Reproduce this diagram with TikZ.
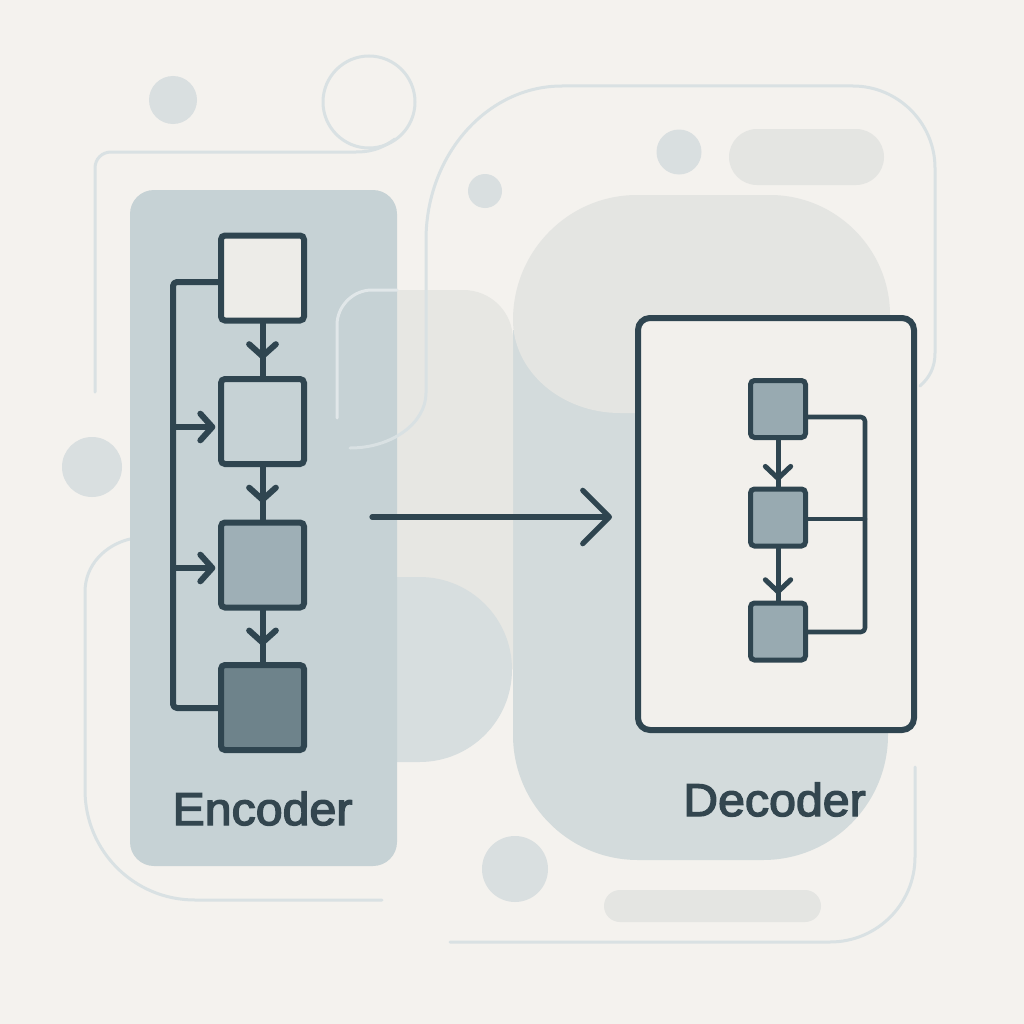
\documentclass[tikz,border=0pt]{standalone}
\usepackage{fontspec}
\setmainfont{Liberation Sans}[FakeStretch=1.05,FakeBold=3]
\usetikzlibrary{arrows.meta,decorations.markings}
\definecolor{bgc}{HTML}{F4F2EE}
\definecolor{panelc}{HTML}{C6D2D5}
\definecolor{blobc}{HTML}{E4E5E2}
\definecolor{darkc}{HTML}{D3DBDC}
\definecolor{midc}{HTML}{E7E7E3}
\definecolor{dshc}{HTML}{D7DEDF}
\definecolor{dotc}{HTML}{D9DFE0}
\definecolor{pillc}{HTML}{E4E5E2}
\definecolor{linec}{HTML}{D9E1E3}
\definecolor{inkc}{HTML}{2F4550}
\definecolor{txtc}{HTML}{33464F}
\definecolor{boxa}{HTML}{EDECE8}
\definecolor{boxc}{HTML}{9EAFB6}
\definecolor{boxd}{HTML}{6E838B}
\definecolor{decbox}{HTML}{98AAB1}
\definecolor{framec}{HTML}{F2F0EC}
\tikzset{
  ink/.style={draw=inkc, line width=4.5pt, line cap=round, line join=round},
  thinline/.style={draw=linec, line width=2.25pt, line cap=round},
  encbox/.style={rectangle, draw=inkc, line width=4.5pt, rounded corners=3pt, inner sep=0pt,
    minimum width=62.25pt, minimum height=63.75pt},
  decsq/.style={rectangle, draw=inkc, line width=3.75pt, rounded corners=3pt, inner sep=0pt,
    fill=decbox, minimum width=41.25pt, minimum height=42.75pt},
  midarrow/.style={decoration={markings, mark=at position #1 with {\arrow{Straight Barb[length=9pt,width=20pt,round]}}}, postaction={decorate}},
  sidetip/.style={-{Straight Barb[length=9pt,width=20pt,round]}},
  label/.style={text=txtc, font=\fontsize{34.5}{40}\selectfont, inner sep=0pt, anchor=base}
}
\begin{document}
\begin{tikzpicture}[x=0.75pt,y=-0.75pt]
\useasboundingbox (0,0) rectangle (1024,1024);
\fill[bgc] (0,0) rectangle (1024,1024);

% large background shapes
\fill[darkc] (513,330) -- (513,735) .. controls (513,804) and (569,860) .. (638,860) -- (763,860)
  .. controls (832,860) and (888,804) .. (888,735) -- (888,330) -- cycle;
\fill[blobc] (513,320) .. controls (513,251) and (568.5,195) .. (637,195) -- (770,195)
  .. controls (836,195) and (890,249) .. (890,315) -- (890,413) -- (620,413)
  .. controls (561,413) and (513,371) .. (513,320) -- cycle;
\fill[midc] (380,290) -- (463,290) .. controls (491,290) and (513,312) .. (513,340) -- (513,669) -- (380,669) -- cycle;
\fill[dshc] (380,577) -- (419.5,577) .. controls (470.6,577) and (512,618.4) .. (512,669.5)
  .. controls (512,720.6) and (470.6,762) .. (419.5,762) -- (380,762) -- cycle;

% dots and pills
\fill[dotc] (173,100) circle[radius=24];
\fill[dotc] (485,191) circle[radius=17];
\fill[dotc] (679,152) circle[radius=22.5];
\fill[pillc, rounded corners=21pt] (729,129) rectangle (884,185);
\fill[dotc] (92,467) circle[radius=30];
\fill[dotc] (515,869) circle[radius=33];
\fill[pillc, rounded corners=12pt] (604,890) rectangle (821,922);

% lower left outline (under the panel)
\draw[thinline] (130,539) .. controls (105,545) and (85,565) .. (85,592) -- (85,790)
  .. controls (85,851) and (134,900) .. (195,900) -- (382,900);

% encoder panel
\node[rectangle, fill=panelc, rounded corners=18pt, minimum width=200.25pt, minimum height=507pt, inner sep=0pt] (enc) at (263.5,528) {};

% outlines above
\draw[thinline] (369,102) circle[radius=46];
\draw[thinline] (95,392) -- (95,168) .. controls (95,159) and (102,152) .. (111,152) -- (356,152)
  .. controls (375,152) and (385,146) .. (395,139);
\draw[thinline] (350,448) .. controls (392,448) and (426,423) .. (426,393) -- (426,240)
  .. controls (426,155) and (487,86) .. (562,86) -- (853,86)
  .. controls (898,86) and (935,123) .. (935,168) -- (935,353)
  .. controls (935,368) and (929,378) .. (920,386);
\draw[thinline, draw=linec!80!white] (337,418) -- (337,325) .. controls (337,306) and (353,290) .. (372,290) -- (397,290);
\draw[thinline] (915,767) -- (915,857) .. controls (915,904) and (877,942) .. (830,942) -- (450,942);

% encoder blocks
\node[encbox, fill=boxa] (b1) at (262.5,278) {};
\node[encbox, fill=panelc] (b2) at (262.5,421.5) {};
\node[encbox, fill=boxc] (b3) at (262.5,565) {};
\node[encbox, fill=boxd] (b4) at (262.5,707.5) {};

\draw[ink, midarrow=0.68] (b1.south) -- (b2.north);
\draw[ink, midarrow=0.68] (b2.south) -- (b3.north);
\draw[ink, midarrow=0.68] (b3.south) -- (b4.north);

\coordinate (ttop) at (173,282);
\coordinate (t2) at (173,427);
\coordinate (t3) at (173,568);
\coordinate (tbot) at (173,708);
\draw[ink, rounded corners=3pt] (b1.west |- ttop) -- (ttop) -- (tbot) -- (b4.west |- tbot);
\draw[ink, sidetip, shorten >=2pt] (t2) -- (t2 -| b2.west);
\draw[ink, sidetip, shorten >=2pt] (t3) -- (t3 -| b3.west);

\node[label] (enclabel) at (262.5,825) {Encoder};

% main arrow
\coordinate (ms) at (372,517);
\coordinate (me) at (612,517);
\draw[ink, line width=3.9pt, -{Straight Barb[length=20pt,width=40pt,round]}] (ms) -- (me);

% decoder
\node[rectangle, draw=inkc, line width=4.5pt, fill=framec, rounded corners=9pt, inner sep=0pt,
  minimum width=207pt, minimum height=309pt] (dec) at (776,524) {};
\node[decsq] (da) at (778,409) {};
\node[decsq] (db) at (778,517.5) {};
\node[decsq] (dc) at (778,631.5) {};
\draw[ink, line width=3.75pt, decoration={markings, mark=at position 0.88 with {\arrow{Straight Barb[length=9pt,width=19pt,round]}}}, postaction={decorate}] (da.south) -- (db.north);
\draw[ink, line width=3.75pt, decoration={markings, mark=at position 0.88 with {\arrow{Straight Barb[length=9pt,width=19pt,round]}}}, postaction={decorate}] (db.south) -- (dc.north);

\coordinate (fa) at (865,417);
\coordinate (fb) at (865,519);
\coordinate (fc) at (865,632);
\draw[ink, line width=3.4pt, rounded corners=3pt] (da.east |- fa) -- (fa) -- (fc) -- (dc.east |- fc);
\draw[ink, line width=3.4pt] (fb) -- (db.east |- fb);

\node[label] (declabel) at (774.5,816) {Decoder};
\end{tikzpicture}
\end{document}
